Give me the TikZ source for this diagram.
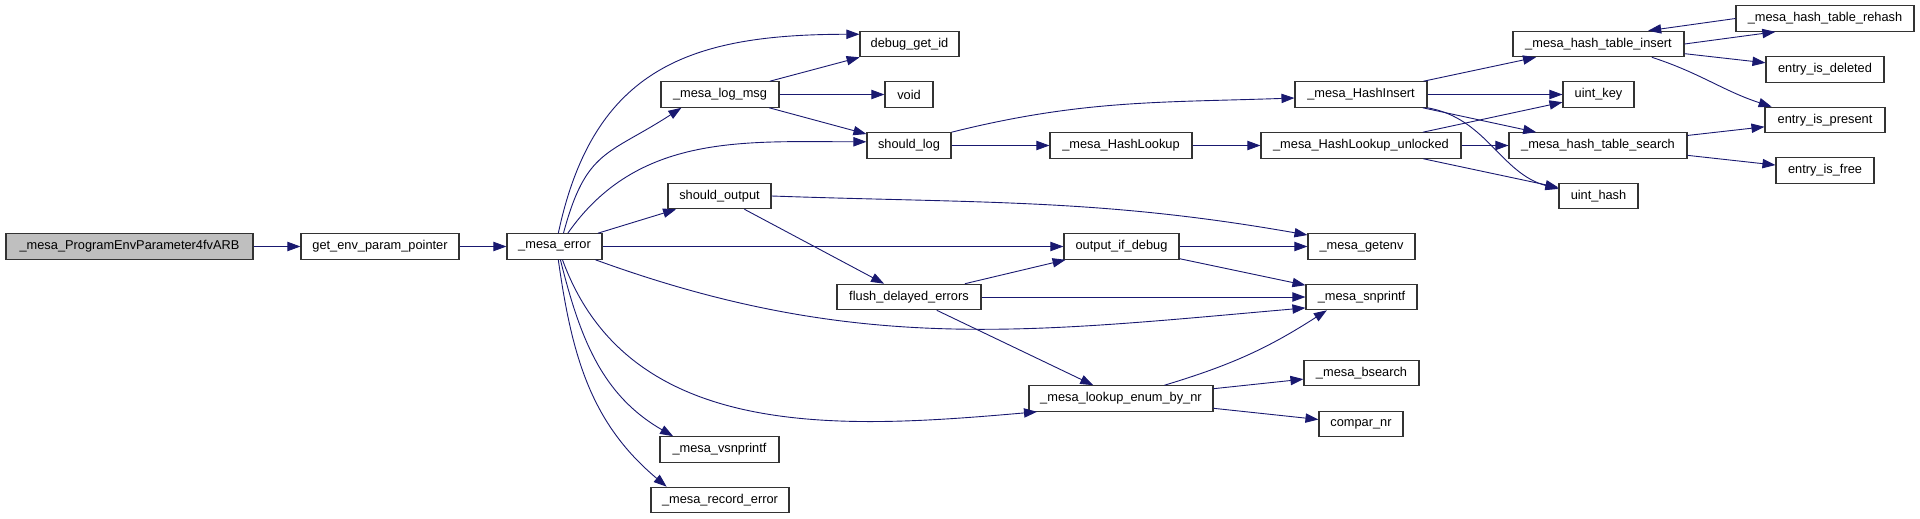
\documentclass[tikz,border=0pt]{standalone}
\usepackage{fontspec}
\setmainfont{Liberation Sans}
\usetikzlibrary{arrows.meta}
\definecolor{edgeblue}{HTML}{191970}
\definecolor{boxgray}{HTML}{BFBFBF}
\tikzset{
  fn/.style={draw=black!80, line width=1.1pt, fill=white, minimum height=25.5pt,
    inner sep=0pt, font=\fontsize{12.8}{15}\selectfont},
  call/.style={draw=edgeblue, line width=0.9pt, -{Triangle[length=13pt,width=9.3pt]}},
}
\begin{document}
\begin{tikzpicture}[x=1pt,y=-1pt]
\useasboundingbox (0,0) rectangle (1920,519);

% caller chain
\node[fn, fill=boxgray, minimum width=247pt] (root) at (129.5,246.5) {\_mesa\_ProgramEnvParameter4fvARB};
\node[fn, minimum width=158pt] (gep) at (380,246.5) {get\_env\_param\_pointer};
\node[fn, minimum width=95pt] (err) at (554.5,246.5) {\_mesa\_error};

% third column
\node[fn, minimum width=118pt] (logmsg) at (720,94.5) {\_mesa\_log\_msg};
\node[fn, minimum width=103pt] (shout) at (719.5,196) {should\_output};
\node[fn, minimum width=119pt] (vsn) at (719.5,449.5) {\_mesa\_vsnprintf};
\node[fn, minimum width=138pt] (recerr) at (720,500) {\_mesa\_record\_error};

% fourth column
\node[fn, minimum width=99pt] (dgi) at (909.5,44) {debug\_get\_id};
\node[fn, minimum width=48pt] (void) at (909,94.5) {void};
\node[fn, minimum width=84pt] (shlog) at (909,145.5) {should\_log};
\node[fn, minimum width=144pt] (flush) at (909,297) {flush\_delayed\_errors};

% fifth column
\node[fn, minimum width=142pt] (hlook) at (1121,145.5) {\_mesa\_HashLookup};
\node[fn, minimum width=115pt] (oid) at (1121.5,246.5) {output\_if\_debug};
\node[fn, minimum width=184pt] (lenum) at (1121,398.5) {\_mesa\_lookup\_enum\_by\_nr};

% sixth column
\node[fn, minimum width=132pt] (hins) at (1361,94.5) {\_mesa\_HashInsert};
\node[fn, minimum width=200pt] (hlu) at (1361,145.5) {\_mesa\_HashLookup\_unlocked};
\node[fn, minimum width=107pt] (getenv) at (1361.5,246.5) {\_mesa\_getenv};
\node[fn, minimum width=111pt] (snp) at (1361.5,297) {\_mesa\_snprintf};
\node[fn, minimum width=115pt] (bsearch) at (1361.5,373) {\_mesa\_bsearch};
\node[fn, minimum width=84pt] (compar) at (1361,424) {compar\_nr};

% hash table column
\node[fn, minimum width=171pt] (tins) at (1598.5,44) {\_mesa\_hash\_table\_insert};
\node[fn, minimum width=71pt] (ukey) at (1598.5,94.5) {uint\_key};
\node[fn, minimum width=178pt] (tsearch) at (1598,145.5) {\_mesa\_hash\_table\_search};
\node[fn, minimum width=79pt] (uhash) at (1598.5,196) {uint\_hash};

% last column
\node[fn, minimum width=178pt] (rehash) at (1825,18.5) {\_mesa\_hash\_table\_rehash};
\node[fn, minimum width=118pt] (eid) at (1825,69.5) {entry\_is\_deleted};
\node[fn, minimum width=120pt] (eip) at (1825,120) {entry\_is\_present};
\node[fn, minimum width=98pt] (eif) at (1825,170.5) {entry\_is\_free};

% calls
\draw[call] (root) -- (gep);
\draw[call] (gep) -- (err);

\draw[call] (err.74) to[out=78,in=180,looseness=1.2] (dgi.169);
\draw[call] (err.56) to[out=75,in=213,looseness=1.3] (logmsg.199);
\draw[call] (err.45) to[out=55,in=180] (shlog.175);
\draw[call] (err) -- (shout);
\draw[call] (err) -- (oid);
\draw[call] (err.342) to[out=-20,in=185] (snp.191);
\draw[call] (err.301) to[out=-70,in=185] (lenum.189);
\draw[call] (err.294) to[out=-76,in=150] (vsn.164);
\draw[call] (err.286) to[out=-82,in=140] (recerr.166);

\draw[call] (logmsg) -- (dgi);
\draw[call] (logmsg) -- (void);
\draw[call] (logmsg) -- (shlog);
\draw[call] (shlog) -- (hlook);
\draw[call] (shlog.north east) to[out=14,in=182] (hins.183);
\draw[call] (shout.east) to[out=-2,in=170] (getenv.168);
\draw[call] (shout) -- (flush);

\draw[call] (oid) -- (getenv);
\draw[call] (oid) -- (snp);
\draw[call] (flush) -- (oid);
\draw[call] (flush) -- (snp);
\draw[call] (flush) -- (lenum);
\draw[call] (lenum.17) to[bend right=8] (snp.201);
\draw[call] (lenum) -- (bsearch);
\draw[call] (lenum) -- (compar);

\draw[call] (hlook) -- (hlu);
\draw[call] (hins) -- (tins);
\draw[call] (hins) -- (ukey);
\draw[call] (hins) -- (tsearch);
\draw[call] (hins.south east) to[out=-10,in=165] (uhash.170);
\draw[call] (hlu) -- (ukey);
\draw[call] (hlu) -- (tsearch);
\draw[call] (hlu) -- (uhash);

\draw[call] (tins.east) -- (rehash.195);
\draw[call] (rehash.west) -- (tins.15);
\draw[call] (tins) -- (eid);
\draw[call] (tins.346) to[out=-18,in=162] (eip.166);
\draw[call] (tsearch) -- (eip);
\draw[call] (tsearch) -- (eif);
\end{tikzpicture}
\end{document}
